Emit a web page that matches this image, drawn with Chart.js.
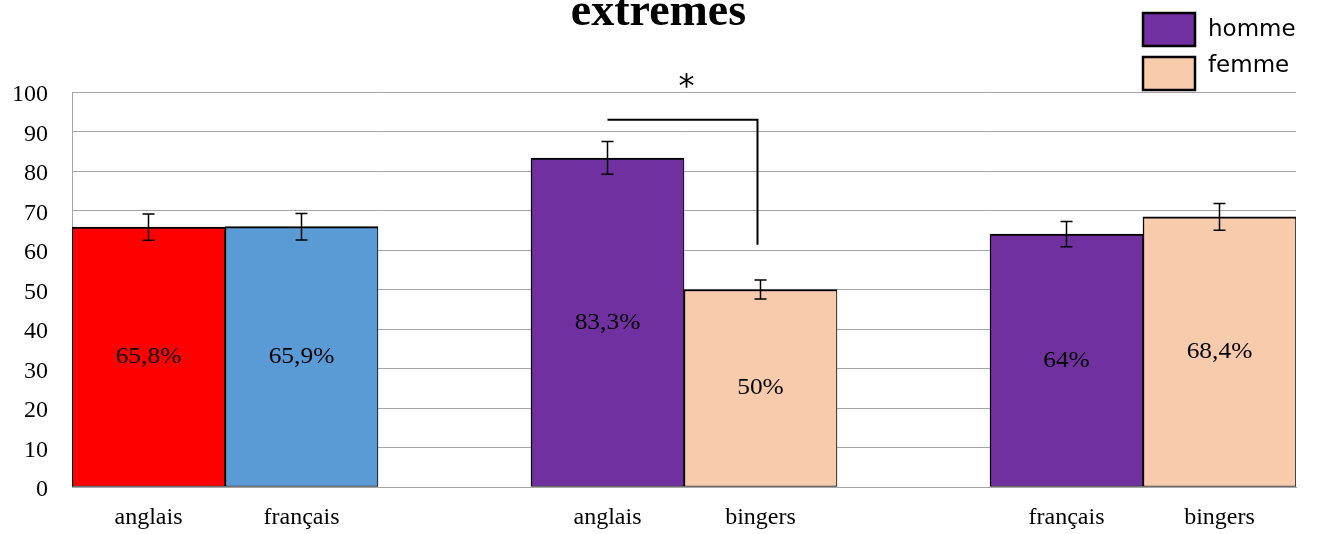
<!DOCTYPE html>
<html><head><meta charset="utf-8">
<script src="https://cdn.jsdelivr.net/npm/chart.js@4"></script>
<style>html,body{margin:0;padding:0;background:#fff}#wrap{width:1317px;height:534px}</style>
</head><body><div id="wrap"><canvas id="c" width="1317" height="534"></canvas></div>
<script>
const titleText = 'extremes';
const categories = ['anglais', 'français', '', 'anglais', 'bingers', '', 'français', 'bingers'];
const values = [65.8, 65.9, null, 83.3, 50, null, 64, 68.4];
const errors = [3.3, 3.35, null, 4.15, 2.4, null, 3.2, 3.4];
const valueLabels = ['65,8%', '65,9%', '', '83,3%', '50%', '', '64%', '68,4%'];
const barColors = ['#FF0000', '#5B9BD5', '#FFFFFF', '#7030A0', '#F8CBAD', '#FFFFFF', '#7030A0', '#F8CBAD'];
const legendLabels = ['homme', 'femme'];
const legendColors = ['#7030A0', '#F8CBAD'];
const yMin = 0, yMax = 100, yStep = 10;
// significance bracket: from bar index, to bar index, bracket level, end level of the drop, mark and its level
const sigFrom = 3, sigTo = 4, sigLevel = 93, sigEnd = 61.3, sigMark = '*', sigMarkLevel = 102.8;

const serif = '"Liberation Serif", "Times New Roman", serif';

const overlay = {
  id: 'overlay',
  afterDatasetsDraw(chart) {
    const ctx = chart.ctx;
    const meta = chart.getDatasetMeta(0);
    const ys = chart.scales.y;
    ctx.save();
    // error bars
    ctx.strokeStyle = '#000';
    ctx.lineWidth = 1.5;
    values.forEach((v, i) => {
      if (v == null || errors[i] == null) return;
      const x = meta.data[i].x;
      const yt = ys.getPixelForValue(v + errors[i]);
      const yb = ys.getPixelForValue(v - errors[i]);
      ctx.beginPath();
      ctx.moveTo(x, yt); ctx.lineTo(x, yb);
      ctx.moveTo(x - 6, yt); ctx.lineTo(x + 6, yt);
      ctx.moveTo(x - 6, yb); ctx.lineTo(x + 6, yb);
      ctx.stroke();
    });
    // value labels
    ctx.fillStyle = '#000';
    ctx.font = '24px ' + serif;
    ctx.textAlign = 'center';
    ctx.textBaseline = 'middle';
    values.forEach((v, i) => {
      if (v == null) return;
      const b = meta.data[i];
      ctx.save();
      ctx.translate(b.x, (b.y + b.base) / 2);
      ctx.scale(1.06, 1);
      ctx.fillText(valueLabels[i], 0, 0);
      ctx.restore();
    });
    // significance bracket
    const x1 = meta.data[sigFrom].x, x2 = meta.data[sigTo].x - 3;
    const yl = ys.getPixelForValue(sigLevel), ye = ys.getPixelForValue(sigEnd);
    ctx.lineWidth = 2;
    ctx.beginPath();
    ctx.moveTo(x1, yl); ctx.lineTo(x2, yl); ctx.lineTo(x2, ye);
    ctx.stroke();
    ctx.font = '32px "DejaVu Sans", sans-serif';
    ctx.textBaseline = 'alphabetic';
    const m = ctx.measureText(sigMark);
    const cy = ys.getPixelForValue(sigMarkLevel);
    const base = cy + (m.actualBoundingBoxAscent - m.actualBoundingBoxDescent) / 2;
    ctx.fillText(sigMark, (x1 + x2) / 2 + 4, base);
    ctx.restore();
  },
  afterDraw(chart) {
    const ctx = chart.ctx;
    ctx.save();
    // title
    ctx.fillStyle = '#000';
    ctx.font = 'bold 46px ' + serif;
    ctx.textAlign = 'center';
    ctx.textBaseline = 'alphabetic';
    ctx.fillText(titleText, chart.width / 2, 25);
    // legend
    const boxX = 1143, boxW = 52, boxH = 33;
    const boxTops = [13, 57];
    const baselines = [36, 72];
    ctx.font = '23px "DejaVu Sans", sans-serif';
    ctx.textAlign = 'left';
    legendLabels.forEach((lab, i) => {
      ctx.fillStyle = legendColors[i];
      ctx.fillRect(boxX, boxTops[i], boxW, boxH);
      ctx.strokeStyle = '#000';
      ctx.lineWidth = 2.5;
      ctx.strokeRect(boxX, boxTops[i], boxW, boxH);
      ctx.fillStyle = '#000';
      ctx.fillText(lab, boxX + 65, baselines[i]);
    });
    ctx.restore();
  }
};

new Chart(document.getElementById('c'), {
  type: 'bar',
  data: {
    labels: categories,
    datasets: [{
      data: values,
      backgroundColor: barColors,
      borderColor: '#000',
      borderWidth: { top: 2, left: 1.5, right: 1, bottom: 1 },
      borderSkipped: false,
      categoryPercentage: 1,
      barPercentage: 1
    }]
  },
  options: {
    responsive: false,
    animation: false,
    devicePixelRatio: 1,
    layout: { padding: { top: 92, right: 21, left: 0, bottom: 0 } },
    plugins: { legend: { display: false }, title: { display: false }, tooltip: { enabled: false } },
    scales: {
      y: {
        min: yMin, max: yMax,
        ticks: { stepSize: yStep, color: '#000', font: { family: serif, size: 24 }, padding: 24, labelOffset: 3 },
        grid: { color: '#A6A6A6', lineWidth: 1, drawTicks: false },
        border: { display: true, color: '#A6A6A6', width: 1 },
        afterFit(s) { s.width = 72; }
      },
      x: {
        ticks: { color: '#000', font: { family: serif, size: 24 }, padding: 16, maxRotation: 0, autoSkip: false },
        grid: { display: false, drawTicks: false },
        border: { display: true, color: '#A6A6A6', width: 1 },
        afterFit(s) { s.height = 47; }
      }
    }
  },
  plugins: [overlay]
});
</script>
</body></html>
